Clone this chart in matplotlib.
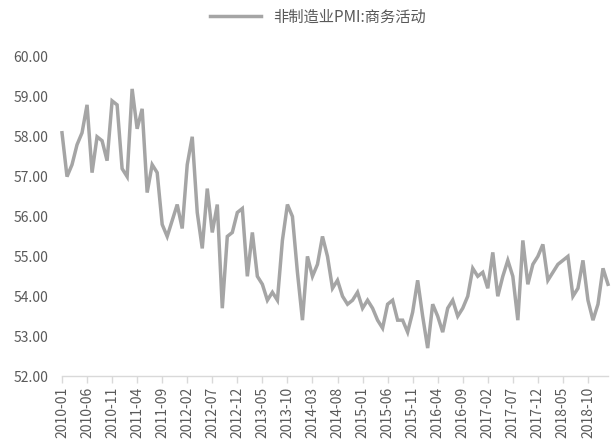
import numpy as np
import matplotlib
matplotlib.use("Agg")
import matplotlib.pyplot as plt

plt.rcParams['font.family'] = ['Noto Sans CJK SC', 'DejaVu Sans']

# 非制造业PMI:商务活动, 月度 2010-01 .. 2019-02
start_year, start_month = 2010, 1
pmi = [
    58.1, 57.0, 57.3, 57.8, 58.1, 58.8, 57.1, 58.0, 57.9, 57.4, 58.9, 58.8,  # 2010
    57.2, 57.0, 59.2, 58.2, 58.7, 56.6, 57.3, 57.1, 55.8, 55.5, 55.9, 56.3,  # 2011
    55.7, 57.3, 58.0, 56.1, 55.2, 56.7, 55.6, 56.3, 53.7, 55.5, 55.6, 56.1,  # 2012
    56.2, 54.5, 55.6, 54.5, 54.3, 53.9, 54.1, 53.9, 55.4, 56.3, 56.0, 54.6,  # 2013
    53.4, 55.0, 54.5, 54.8, 55.5, 55.0, 54.2, 54.4, 54.0, 53.8, 53.9, 54.1,  # 2014
    53.7, 53.9, 53.7, 53.4, 53.2, 53.8, 53.9, 53.4, 53.4, 53.1, 53.6, 54.4,  # 2015
    53.5, 52.7, 53.8, 53.5, 53.1, 53.7, 53.9, 53.5, 53.7, 54.0, 54.7, 54.5,  # 2016
    54.6, 54.2, 55.1, 54.0, 54.5, 54.9, 54.5, 53.4, 55.4, 54.3, 54.8, 55.0,  # 2017
    55.3, 54.4, 54.6, 54.8, 54.9, 55.0, 54.0, 54.2, 54.9, 53.9, 53.4, 53.8,  # 2018
    54.7, 54.3,                                                              # 2019
]
series_name = "非制造业PMI:商务活动"
y_ticks = [52, 53, 54, 55, 56, 57, 58, 59, 60]

months = []
for k in range(len(pmi)):
    yr = start_year + (start_month - 1 + k) // 12
    mo = (start_month - 1 + k) % 12 + 1
    months.append(f"{yr}-{mo:02d}")

x = np.arange(len(pmi))
label_idx = x[::5]

fig = plt.figure(figsize=(6.12, 4.42), dpi=100)
ax = fig.add_axes([62 / 612, 66 / 442, 546 / 612, 319 / 442])

ax.plot(x, pmi, color='#A5A5A5', linewidth=2.5, solid_joinstyle='miter',
        clip_on=False, label=series_name)

ax.set_xlim(0, len(pmi) - 1)
ax.set_ylim(52, 60)
ax.set_yticks(y_ticks)
ax.set_yticklabels([f"{v:.2f}" for v in y_ticks])
ax.set_xticks(label_idx)
ax.set_xticklabels([months[i] for i in label_idx], rotation=90)

ax.tick_params(axis='y', length=0, pad=10, labelsize=10, labelcolor='#595959')
ax.tick_params(axis='x', length=5, width=1, color='#D9D9D9', pad=3,
               labelsize=10, labelcolor='#595959')

for side in ['top', 'right', 'left']:
    ax.spines[side].set_visible(False)
ax.spines['bottom'].set_color('#D9D9D9')
ax.spines['bottom'].set_linewidth(1)
ax.grid(False)

fig.legend(loc='center', bbox_to_anchor=(318 / 612, 1 - 17 / 442),
           frameon=False, handlelength=3.3, fontsize=11,
           labelcolor='#595959')

fig.patch.set_facecolor('white')
fig.savefig("out.png", dpi=100)
